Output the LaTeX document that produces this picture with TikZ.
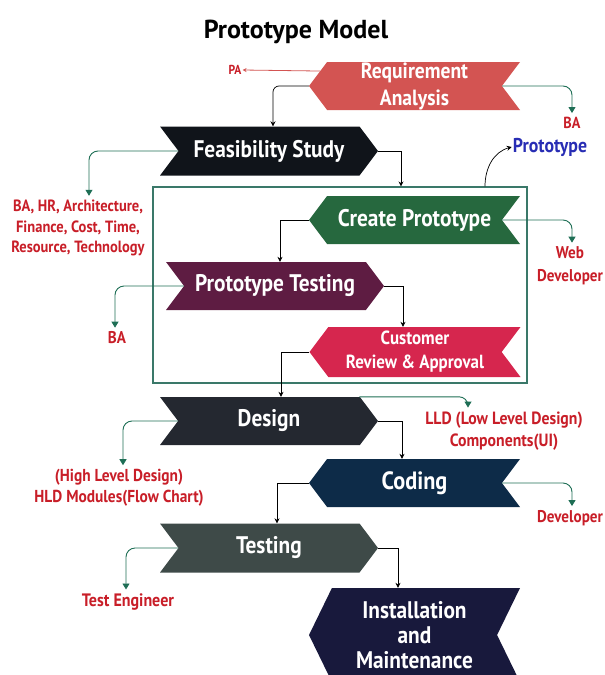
\documentclass[tikz,border=0pt]{standalone}
\usepackage{fontspec}
\setmainfont{PT Sans}
\newfontfamily\condfont[FakeStretch=0.89]{PT Sans}
\usetikzlibrary{shapes.symbols,arrows.meta}

\definecolor{reqred}{RGB}{211,84,82}
\definecolor{feasblack}{RGB}{16,20,26}
\definecolor{creategreen}{RGB}{38,104,62}
\definecolor{ptestplum}{RGB}{94,28,66}
\definecolor{custred}{RGB}{214,38,78}
\definecolor{designdark}{RGB}{36,40,48}
\definecolor{codingnavy}{RGB}{13,43,72}
\definecolor{testgray}{RGB}{62,74,72}
\definecolor{installnavy}{RGB}{24,25,60}
\definecolor{framegreen}{RGB}{58,120,105}
\definecolor{lblred}{RGB}{200,30,40}
\definecolor{notegreen}{RGB}{30,110,85}
\definecolor{protoblue}{RGB}{40,45,180}

\tikzset{
  leftstep/.style={signal, signal to=west, signal from=east, minimum width=211pt,
    inner sep=0pt, text=white, align=center},
  rightstep/.style={signal, signal to=east, signal from=west, minimum width=218pt,
    inner sep=0pt, text=white, align=center},
  flow/.style={-{Stealth[length=5pt,width=5pt]}, line width=0.7pt, black},
  note/.style={-{Triangle[length=6pt,width=7pt]}, draw=notegreen, line width=0.9pt,
    rounded corners=9pt, shorten >=3pt},
  notelabel/.style={text=lblred, align=center, inner sep=1pt}
}

\begin{document}
\begin{tikzpicture}[x=1pt, y=-1pt]
  \useasboundingbox (0,0) rectangle (605,675);

  \node[font=\bfseries\fontsize{26}{30}\selectfont] (title) at (296,32) {Prototype Model};

  % prototyping loop
  \node[draw=framegreen, line width=1.1pt, minimum width=374pt, minimum height=196pt,
    inner sep=0pt] (frame) at (340,285) {};

  \foreach \nm/\x/\y/\h/\ang/\sz/\ls/\col/\txt in {
      req/414.5/86/48/106/22/27/reqred/{Requirement\\Analysis},
      create/414.5/220/48/106/24/28/creategreen/{Create Prototype},
      cust/415/352/50/106/19/24/custred/{Customer\\Review \& Approval},
      coding/414.5/483/48/106/25/28/codingnavy/{Coding},
      install/414.5/635/94/128/24/25/installnavy/{Installation\\and\\Maintenance}}
    \node[leftstep, minimum height=\h pt, signal pointer angle=\ang, fill=\col,
      font=\condfont\bfseries\fontsize{\sz}{\ls}\selectfont] (\nm) at (\x,\y) {\txt};

  \foreach \nm/\x/\y/\h/\col/\txt in {
      feas/269/151/49/feasblack/{Feasibility Study},
      ptest/275/286/48/ptestplum/{Prototype Testing},
      design/269/421/48/designdark/{Design},
      testing/269/548/49/testgray/{Testing}}
    \node[rightstep, minimum height=\h pt, signal pointer angle=106, fill=\col,
      font=\condfont\bfseries\fontsize{24}{28}\selectfont] (\nm) at (\x,\y) {\txt};

  \foreach \nm/\x/\y/\sz/\ls/\txt in {
      pa/235/70/13/15/PA,
      lba/572/123/16/18/BA,
      lfeas/78/228/16.3/20.5/{BA, HR, Architecture,\\Finance, Cost, Time,\\Resource, Technology},
      lweb/570/266/17/23/{Web\\Developer},
      lba2/117/338/17/18/BA,
      lhld/119/488/17.3/21/{(High Level Design)\\HLD Modules(Flow Chart)},
      llld/504/431/17.7/22/{LLD (Low Level Design)\\Components(UI)},
      ldev/570/518/17/18/Developer,
      ltest/128/602/18/18/{Test Engineer}}
    \node[notelabel, font=\condfont\bfseries\fontsize{\sz}{\ls}\selectfont] (\nm) at (\x,\y) {\txt};

  \node[text=protoblue, inner sep=1pt, font=\condfont\bfseries\fontsize{20}{22}\selectfont]
    (proto) at (550,147) {Prototype};

  % main flow
  \draw[flow, rounded corners=6pt] (req.west) -| ([xshift=4pt]feas.north);
  \foreach \a/\p/\b/\s in {feas/east/frame/61, create/west/ptest/5, ptest/east/cust/-12,
      cust/west/design/12, design/east/coding/-12.5, coding/west/testing/8,
      testing/east/install/-16.5}
    \draw[flow] (\a.\p) -| ([xshift=\s pt]\b.north);
  \draw[flow] ([xshift=145pt]frame.north) to[out=90, in=195] (proto.west);

  % roles
  \draw[-{Stealth[length=4pt,width=4pt]}, draw=reqred, line width=0.8pt] (req.171) -- (pa.east);
  \foreach \a/\p/\b/\s in {req/east/lba/0, feas/west/lfeas/11, create/east/lweb/2,
      ptest/west/lba2/-2, design/west/lhld/4, design/15/llld/-36, coding/east/ldev/2,
      testing/west/ltest/-2}
    \draw[note] (\a.\p) -| ([xshift=\s pt]\b.north);
\end{tikzpicture}
\end{document}
